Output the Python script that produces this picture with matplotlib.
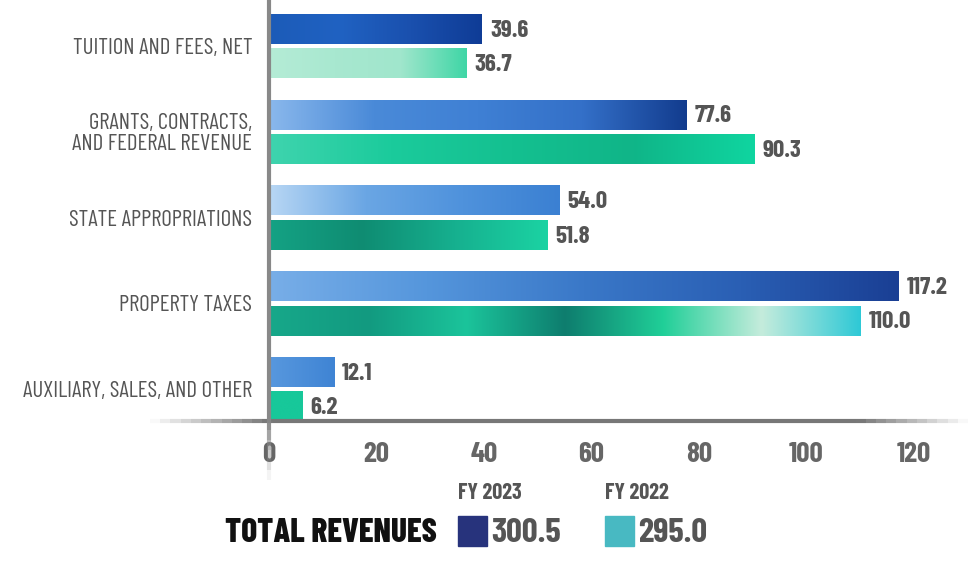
import matplotlib
matplotlib.use("Agg")
import matplotlib.pyplot as plt
import numpy as np
from matplotlib.lines import Line2D
from matplotlib.patches import Rectangle
from matplotlib.colors import LinearSegmentedColormap

categories = ["TUITION AND FEES, NET", "GRANTS, CONTRACTS,\nAND FEDERAL REVENUE",
              "STATE APPROPRIATIONS", "PROPERTY TAXES", "AUXILIARY, SALES, AND OTHER"]
fy2023 = [39.6, 77.6, 54.0, 117.2, 12.1]
fy2022 = [36.7, 90.3, 51.8, 110.0, 6.2]
xticks = [0, 20, 40, 60, 80, 100, 120]
series_names = ["FY 2023", "FY 2022"]
totals = ["300.5", "295.0"]

# watercolour-like left-to-right colour stops for each bar
grad2023 = [
    ["#1c5bb8", "#2062c2", "#1a50ae", "#0f3c96"],
    ["#8ab8ec", "#4a8ad8", "#3f80d4", "#3470c8", "#123c8e"],
    ["#b8d7f4", "#6aa6e4", "#4f92dc", "#3b80d2"],
    ["#78aee8", "#5596dc", "#3a78c8", "#2a5fb4", "#1a3f94"],
    ["#5898de", "#3f84d4"],
]
grad2022 = [
    ["#b5ecd6", "#a8e8d0", "#a0e6cc", "#3fd6a6"],
    ["#3fd4ae", "#1bcb9c", "#14c090", "#10b588", "#0fd5a0"],
    ["#14a284", "#0f8c72", "#16b08f", "#1bd3a3"],
    ["#17a88a", "#129a80", "#1bc49b", "#0e7d6e", "#20cf98", "#c5ecdc", "#2fc9d6"],
    ["#17c89a", "#17c89a"],
]

FONT = "Barlow Condensed"

W, H = 972, 565
fig = plt.figure(figsize=(W / 100, H / 100), dpi=100)
ax = fig.add_axes([269 / W, 1 - 421 / H, (W - 269) / W, 421 / H])
XMAX = (W - 269) / 5.375
YLIM = (4.37, -0.536)

y = np.arange(len(categories))
h = 0.35
off = 0.2
bars23 = ax.barh(y - off, fy2023, height=h, color=[g[len(g) // 2] for g in grad2023])
bars22 = ax.barh(y + off, fy2022, height=h, color=[g[len(g) // 2] for g in grad2022])

def paint(bars, grads):
    for b, g in zip(bars, grads):
        cmap = LinearSegmentedColormap.from_list("g", g)
        x0, yb, w, hh = b.get_x(), b.get_y(), b.get_width(), b.get_height()
        img = ax.imshow(np.linspace(0, 1, 256).reshape(1, -1), cmap=cmap, aspect="auto",
                        extent=(x0, x0 + w, yb + hh, yb), interpolation="bilinear", zorder=2)
        img.set_clip_path(b)

paint(bars23, grad2023)
paint(bars22, grad2022)
ax.set_xlim(0, XMAX)
ax.set_ylim(*YLIM)

for i in range(len(categories)):
    ax.text(fy2023[i] + 1.5, y[i] - off + 0.02, f"{fy2023[i]:.1f}", va="center", ha="left",
            fontsize=18, fontweight="bold", color="#555555", family=FONT)
    ax.text(fy2022[i] + 1.5, y[i] + off + 0.02, f"{fy2022[i]:.1f}", va="center", ha="left",
            fontsize=18, fontweight="bold", color="#555555", family=FONT)

ax.set_yticks(y)
ax.set_yticklabels(categories, fontsize=16.5, color="#555555", family=FONT,
                   linespacing=1.0)
ax.set_xticks(xticks)
ax.set_xticklabels([str(t) for t in xticks], fontsize=21, fontweight="bold",
                   color="#666666", family=FONT)
ax.tick_params(axis="both", length=0)
ax.tick_params(axis="y", pad=12)
ax.tick_params(axis="x", pad=15)
for s in ax.spines.values():
    s.set_visible(False)

def fx(px):
    return px / W

def fy(py):
    return 1 - py / H

# horizontal axis line with faded ends
n = 80
xs = np.linspace(150, 968, n + 1)
for k in range(n):
    xm = (xs[k] + xs[k + 1]) / 2
    a = 1.0
    if xm < 269:
        a = (xm - 150) / 119
    elif xm > 860:
        a = max(0, 1 - (xm - 860) / 108)
    fig.add_artist(Line2D([fx(xs[k]), fx(xs[k + 1])], [fy(421), fy(421)],
                          color="#777777", lw=3, alpha=max(a, 0), solid_capstyle="butt"))
# vertical axis line with faded bottom
ys = np.linspace(0, 480, 49)
for k in range(48):
    ym = (ys[k] + ys[k + 1]) / 2
    a = 1.0 if ym < 421 else max(0, 1 - (ym - 421) / 59)
    fig.add_artist(Line2D([fx(269), fx(269)], [fy(ys[k]), fy(ys[k + 1])],
                          color="#888888", lw=3, alpha=a, solid_capstyle="butt"))

# legend / totals
fig.text(fx(225), fy(533), "TOTAL REVENUES", ha="left", va="center", fontsize=24,
         fontweight="heavy", color="#111111", family=FONT)
fig.text(fx(458), fy(493), series_names[0], ha="left", va="center", fontsize=16,
         fontweight="bold", color="#555555", family=FONT)
fig.text(fx(605), fy(493), series_names[1], ha="left", va="center", fontsize=16,
         fontweight="bold", color="#555555", family=FONT)
fig.add_artist(Rectangle((fx(458), fy(546)), 29 / W, 30 / H, color="#27337c",
                         transform=fig.transFigure))
fig.add_artist(Rectangle((fx(605), fy(546)), 29 / W, 30 / H, color="#48b9c2",
                         transform=fig.transFigure))
fig.text(fx(491), fy(533), totals[0], ha="left", va="center", fontsize=25,
         fontweight="bold", color="#555555", family=FONT)
fig.text(fx(638), fy(533), totals[1], ha="left", va="center", fontsize=25,
         fontweight="bold", color="#555555", family=FONT)

fig.savefig("out.png", dpi=100)
